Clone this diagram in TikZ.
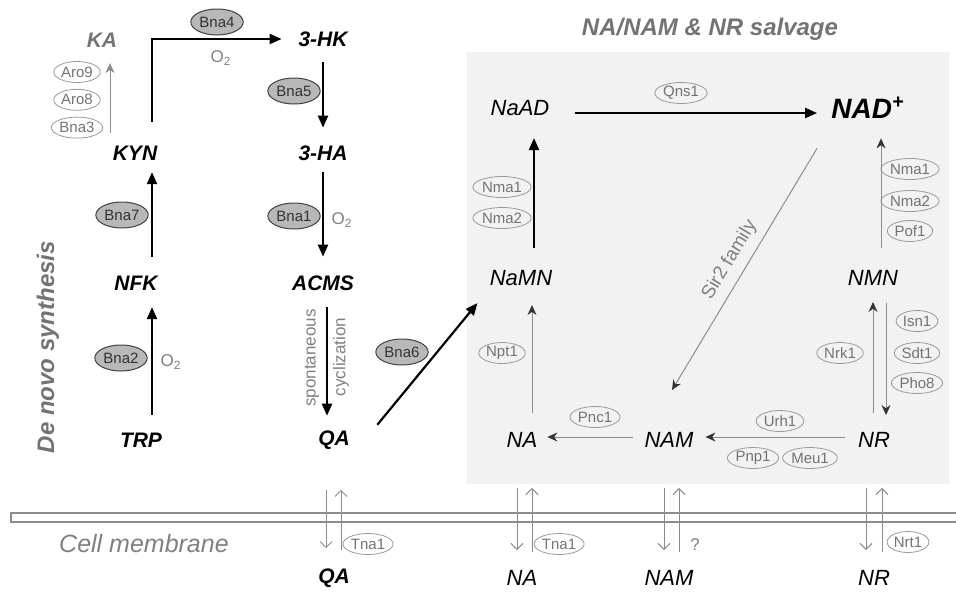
\documentclass[tikz,border=0pt]{standalone}
\usepackage{fontspec}
\setmainfont{Liberation Sans}
\usetikzlibrary{arrows.meta,positioning,shapes.geometric}
\definecolor{boxgray}{gray}{0.95}
\definecolor{linegray}{gray}{0.55}
\definecolor{txtgray}{gray}{0.5}
\tikzset{
  met/.style={inner sep=0pt,font=\fontsize{10.5}{12}\selectfont\bfseries\itshape},
  smet/.style={inner sep=0pt,font=\fontsize{11}{13}\selectfont\itshape},
  enz/.style={ellipse,draw=black!75,fill=black!28,inner sep=0.5pt,minimum height=13pt,
    line width=0.5pt,font=\fontsize{7.5}{9}\selectfont,text=black!80},
  wenz/.style={ellipse,draw=black!40,inner sep=0.3pt,minimum height=10.5pt,
    line width=0.4pt,font=\fontsize{7.5}{9}\selectfont,text=black!55},
  note/.style={inner sep=0pt,text=txtgray,font=\fontsize{8.5}{10}\selectfont},
  heading/.style={inner sep=0pt,text=black!55,font=\fontsize{12}{14}\selectfont\bfseries\itshape},
  flow/.style={-{Triangle[length=6pt,width=5pt]},line width=1.1pt},
  gflow/.style={-{Stealth[length=5pt,width=4.5pt,color=black!80]},line width=0.5pt,draw=linegray},
  tport/.style={-{Straight Barb[length=3pt,width=6pt]},line width=0.5pt,draw=linegray},
}

\begin{document}
\begin{tikzpicture}[x=0.5pt,y=-0.5pt]
  \useasboundingbox (0,0) rectangle (956,595);
  \fill[boxgray] (467,52) rectangle (949,484);
  \draw[linegray,line width=0.6pt] (965,513) -- (11,513) -- (11,522) -- (965,522);

  \node[heading] (salv) at (710,29) {NA/NAM \& NR salvage};
  \node[heading,rotate=90] (denovo) at (48,347) {De novo synthesis};
  \node[inner sep=0pt,text=black!50,font=\fontsize{12.5}{14}\selectfont\itshape] (memb) at (144,544) {Cell membrane};

  % de novo pathway
  \node[met,text=black!55] (ka) at (102,40) {KA};
  \node[met] (kyn) at (135,153) {KYN};
  \node[met] (nfk) at (136,283) {NFK};
  \node[met] (trp) at (141,440) {TRP};
  \node[met] (hk) at (323,39) {3-HK};
  \node[met] (ha) at (323,153) {3-HA};
  \node[met] (acms) at (323,283) {ACMS};
  \node[met] (qa) at (334,440) {QA};
  \node[met] (qaout) at (334,578) {QA};

  \node[enz] (bna4) at (217,22) {Bna4};
  \node[enz] (bna5) at (294,91) {Bna5};
  \node[enz] (bna1) at (294,216) {Bna1};
  \node[enz] (bna7) at (122,215) {Bna7};
  \node[enz] (bna2) at (121,358) {Bna2};
  \node[enz] (bna6) at (402,352) {Bna6};
  \node[wenz] (aro9) at (77,72) {Aro9};
  \node[wenz,below=3pt of aro9] (aro8) {Aro8};
  \node[wenz,below=3pt of aro8] (bna3) {Bna3};
  \node[note] (o2a) at (221,58) {O\textsubscript{2}};
  \node[note] (o2b) at (342,220) {O\textsubscript{2}};
  \node[note] (o2c) at (171,362) {O\textsubscript{2}};
  \node[note,rotate=90] (spont) at (312,358) {spontaneous};
  \node[note,rotate=90] (cycl) at (341,357) {cyclization};

  \draw[flow,shorten <=8.75pt,shorten >=8.25pt] ([xshift=5.5pt]trp.north) -- ([xshift=8pt]nfk.south);
  \draw[flow,shorten <=9.25pt,shorten >=5.75pt] ([xshift=8pt]nfk.north) -- ([xshift=8.5pt]kyn.south);
  \draw[flow,shorten <=11.75pt,shorten >=8.25pt] ([xshift=8.5pt]kyn.north) |- (hk.west);
  \draw[gflow,-{Stealth[length=5pt,width=4.5pt]},shorten <=6.25pt,shorten >=7.75pt]
    ([xshift=4pt]ka.south |- kyn.north) -- ([xshift=4pt]ka.south);
  \draw[flow,shorten <=7.75pt,shorten >=8.75pt] (hk) -- (ha);
  \draw[flow,shorten <=5.75pt,shorten >=9.25pt] (ha) -- (acms);
  \draw[flow,shorten <=8.25pt,shorten >=7.25pt] ([xshift=2pt]acms.south) -- ([xshift=-3.5pt]qa.north);

  % salvage
  \node[smet] (naad) at (520,108) {NaAD};
  \node[met,font=\fontsize{14}{16}\selectfont\bfseries\itshape] (nad) at (868,108) {NAD\textsuperscript{+}};
  \node[smet] (namn) at (521,278) {NaMN};
  \node[smet] (nmn) at (873,278) {NMN};
  \node[smet] (na) at (522,440) {NA};
  \node[smet] (nam) at (669,440) {NAM};
  \node[smet] (nr) at (874,440) {NR};
  \node[smet] (naout) at (522,578) {NA};
  \node[smet] (namout) at (669,578) {NAM};
  \node[smet] (nrout) at (874,578) {NR};

  \node[wenz] (qns1) at (681,93) {Qns1};
  \node[wenz] (nma1a) at (502,187) {Nma1};
  \node[wenz] (nma2a) at (502,218) {Nma2};
  \node[wenz] (nma1b) at (910,169) {Nma1};
  \node[wenz] (nma2b) at (910,201) {Nma2};
  \node[wenz] (pof1) at (910,231) {Pof1};
  \node[wenz] (npt1) at (502,353) {Npt1};
  \node[wenz] (pnc1) at (595,417) {Pnc1};
  \node[wenz] (urh1) at (780,421) {Urh1};
  \node[wenz] (pnp1) at (753,458) {Pnp1};
  \node[wenz] (meu1) at (810,458) {Meu1};
  \node[wenz] (nrk1) at (840,353) {Nrk1};
  \node[wenz] (isn1) at (917,321) {Isn1};
  \node[wenz] (sdt1) at (917,353) {Sdt1};
  \node[wenz] (pho8) at (917,383) {Pho8};
  \node[wenz] (tna1a) at (368,544) {Tna1};
  \node[wenz] (tna1b) at (559,544) {Tna1};
  \node[wenz] (nrt1) at (908,542) {Nrt1};
  \node[note] (unk) at (695,545) {?};

  \draw[flow] ([xshift=13.6pt,yshift=2.75pt]qa.north east) -- ([xshift=-6pt,yshift=-8.5pt]namn.south west);
  \draw[flow,shorten <=12.8pt,shorten >=7pt] ([yshift=-2.5pt]naad.east) -- ([yshift=-2.5pt]naad.east -| nad.west);
  \draw[flow,shorten <=11pt,shorten >=11pt] ([xshift=6.5pt]namn.north) -- ([xshift=7pt]naad.south);
  \draw[gflow,shorten <=11pt,shorten >=9.5pt] ([xshift=4pt]nmn.north) -- ([xshift=6.5pt]nad.south);
  \draw[gflow,shorten <=9.5pt,shorten >=9.5pt] ([xshift=5pt]na.north) -- ([xshift=5.5pt]namn.south);
  \draw[gflow,shorten <=5.8pt,shorten >=4.85pt] ([yshift=1.5pt]nam.west) -- ([yshift=1.5pt]na.east);
  \draw[gflow,shorten <=6.5pt,shorten >=5.8pt] ([yshift=1.5pt]nr.west) -- ([yshift=1.5pt]nam.east);
  \draw[gflow,shorten <=9.5pt,shorten >=8pt] ([xshift=-0.5pt]nr.north) -- (nmn.south);
  \draw[gflow,shorten <=8.5pt,shorten >=8.5pt] ([xshift=6.5pt]nmn.south) -- ([xshift=6pt]nr.north);
  \draw[gflow,{Stealth[length=5pt,width=4.5pt,color=black!80]}-]
    ([xshift=1.5pt,yshift=21pt]nam.north) -- ([xshift=-25.5pt,yshift=-14.5pt]nad.south)
    node[note,midway,sloped,above=4pt,font=\fontsize{9.5}{11}\selectfont] {Sir2 family};

  % transport across the membrane
  \foreach \a/\b/\dn/\up in {qa/qaout/-4pt/3.5pt, na/naout/-2.5pt/5pt, nam/namout/-2.5pt/5pt, nr/nrout/-4pt/4pt}{
    \draw[tport,shorten <=20pt,shorten >=10pt] ([xshift=\dn]\a.south) -- ([xshift=\dn]\b.north);
    \draw[tport,shorten <=9pt,shorten >=20pt] ([xshift=\up]\b.north) -- ([xshift=\up]\a.south);
  }
\end{tikzpicture}
\end{document}
